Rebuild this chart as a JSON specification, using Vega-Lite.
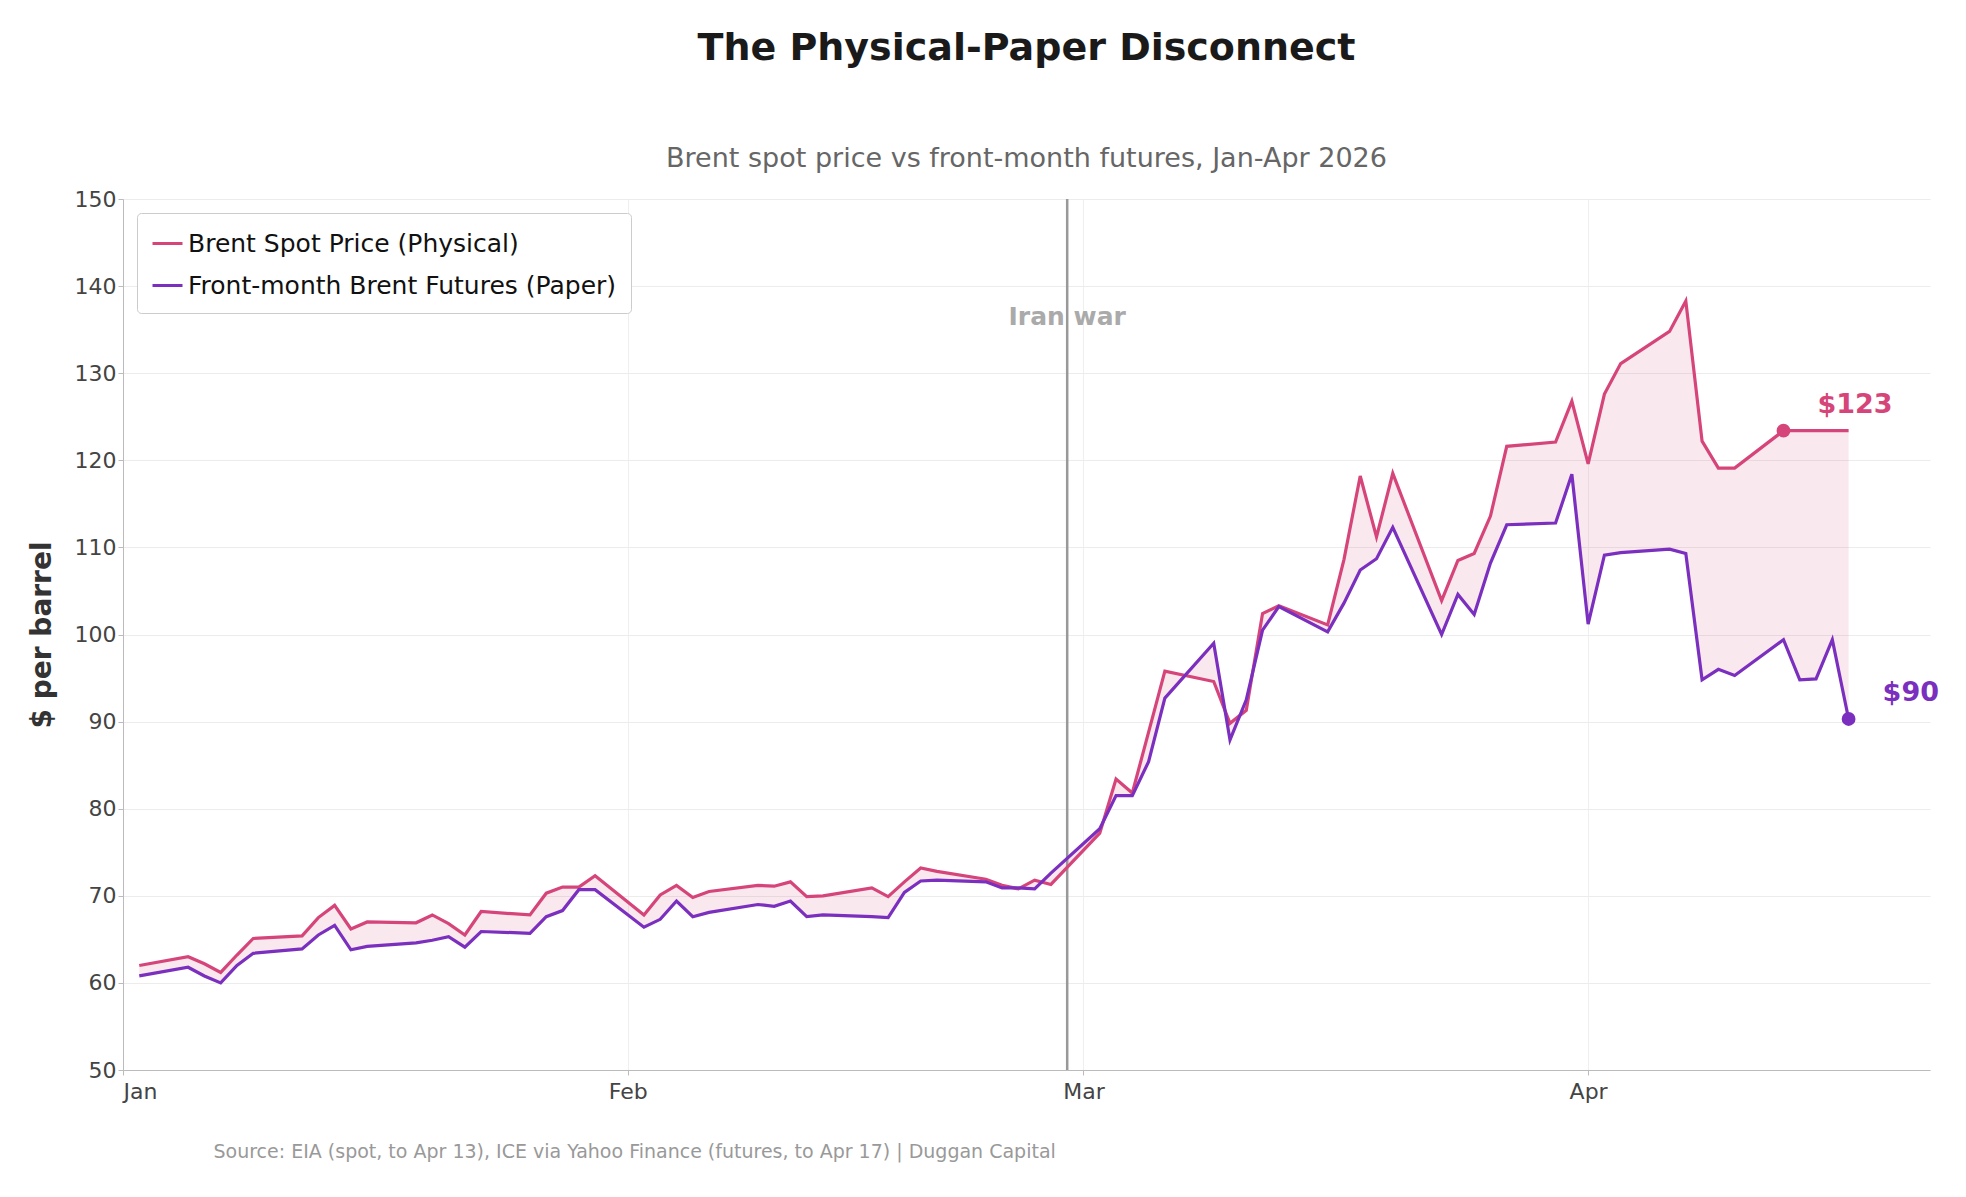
{
  "$schema": "https://vega.github.io/schema/vega-lite/v6.json",
  "width": 1966,
  "height": 1197,
  "autosize": {"type": "fit", "contains": "padding"},
  "padding": {"left": 28, "top": 30, "right": 34, "bottom": 36},
  "background": "white",
  "config": {
    "font": "DejaVu Sans",
    "view": {"stroke": null},
    "axis": {"labelFont": "DejaVu Sans", "titleFont": "DejaVu Sans"}
  },
  "title": {
    "text": "The Physical-Paper Disconnect",
    "subtitle": "Brent spot price vs front-month futures, Jan-Apr 2026",
    "fontSize": 38,
    "fontWeight": "bold",
    "color": "#1a1a1a",
    "subtitleFontSize": 27,
    "subtitleColor": "#666666",
    "subtitlePadding": 78,
    "offset": 16,
    "anchor": "middle"
  },
  "datasets": {
    "prices": [
      {"d": "2026-01-02", "spot": 62.0, "fut": 60.8},
      {"d": "2026-01-05", "spot": 63.0, "fut": 61.8},
      {"d": "2026-01-06", "spot": 62.2, "fut": 60.8},
      {"d": "2026-01-07", "spot": 61.2, "fut": 60.0},
      {"d": "2026-01-08", "spot": 63.2, "fut": 62.0},
      {"d": "2026-01-09", "spot": 65.1, "fut": 63.4},
      {"d": "2026-01-12", "spot": 65.4, "fut": 63.9},
      {"d": "2026-01-13", "spot": 67.5, "fut": 65.5},
      {"d": "2026-01-14", "spot": 68.9, "fut": 66.6},
      {"d": "2026-01-15", "spot": 66.2, "fut": 63.8},
      {"d": "2026-01-16", "spot": 67.0, "fut": 64.2},
      {"d": "2026-01-19", "spot": 66.9, "fut": 64.6},
      {"d": "2026-01-20", "spot": 67.8, "fut": 64.9},
      {"d": "2026-01-21", "spot": 66.8, "fut": 65.3},
      {"d": "2026-01-22", "spot": 65.5, "fut": 64.1},
      {"d": "2026-01-23", "spot": 68.2, "fut": 65.9},
      {"d": "2026-01-26", "spot": 67.8, "fut": 65.7},
      {"d": "2026-01-27", "spot": 70.3, "fut": 67.6},
      {"d": "2026-01-28", "spot": 71.0, "fut": 68.3},
      {"d": "2026-01-29", "spot": 71.0, "fut": 70.7},
      {"d": "2026-01-30", "spot": 72.3, "fut": 70.7},
      {"d": "2026-02-02", "spot": 67.8, "fut": 66.4},
      {"d": "2026-02-03", "spot": 70.1, "fut": 67.3},
      {"d": "2026-02-04", "spot": 71.2, "fut": 69.4},
      {"d": "2026-02-05", "spot": 69.8, "fut": 67.6},
      {"d": "2026-02-06", "spot": 70.5, "fut": 68.1},
      {"d": "2026-02-09", "spot": 71.2, "fut": 69.0},
      {"d": "2026-02-10", "spot": 71.1, "fut": 68.8},
      {"d": "2026-02-11", "spot": 71.6, "fut": 69.4},
      {"d": "2026-02-12", "spot": 69.9, "fut": 67.6},
      {"d": "2026-02-13", "spot": 70.0, "fut": 67.8},
      {"d": "2026-02-16", "spot": 70.9, "fut": 67.6},
      {"d": "2026-02-17", "spot": 69.9, "fut": 67.5},
      {"d": "2026-02-18", "spot": 71.6, "fut": 70.4},
      {"d": "2026-02-19", "spot": 73.2, "fut": 71.7},
      {"d": "2026-02-20", "spot": 72.8, "fut": 71.8},
      {"d": "2026-02-23", "spot": 71.9, "fut": 71.6},
      {"d": "2026-02-24", "spot": 71.2, "fut": 70.9},
      {"d": "2026-02-25", "spot": 70.8, "fut": 70.9},
      {"d": "2026-02-26", "spot": 71.8, "fut": 70.8},
      {"d": "2026-02-27", "spot": 71.3, "fut": 72.6},
      {"d": "2026-03-02", "spot": 77.2, "fut": 77.7},
      {"d": "2026-03-03", "spot": 83.4, "fut": 81.5},
      {"d": "2026-03-04", "spot": 81.8, "fut": 81.5},
      {"d": "2026-03-05", "spot": 88.8, "fut": 85.4},
      {"d": "2026-03-06", "spot": 95.8, "fut": 92.7},
      {"d": "2026-03-09", "spot": 94.6, "fut": 99.0},
      {"d": "2026-03-10", "spot": 89.8, "fut": 87.9},
      {"d": "2026-03-11", "spot": 91.3, "fut": 92.5},
      {"d": "2026-03-12", "spot": 102.4, "fut": 100.5},
      {"d": "2026-03-13", "spot": 103.3, "fut": 103.2},
      {"d": "2026-03-16", "spot": 101.1, "fut": 100.3},
      {"d": "2026-03-17", "spot": 108.6, "fut": 103.6},
      {"d": "2026-03-18", "spot": 118.2, "fut": 107.4},
      {"d": "2026-03-19", "spot": 111.2, "fut": 108.7},
      {"d": "2026-03-20", "spot": 118.5, "fut": 112.3},
      {"d": "2026-03-23", "spot": 103.9, "fut": 100.0},
      {"d": "2026-03-24", "spot": 108.5, "fut": 104.6},
      {"d": "2026-03-25", "spot": 109.3, "fut": 102.3},
      {"d": "2026-03-26", "spot": 113.6, "fut": 108.2},
      {"d": "2026-03-27", "spot": 121.6, "fut": 112.6},
      {"d": "2026-03-30", "spot": 122.1, "fut": 112.8},
      {"d": "2026-03-31", "spot": 126.8, "fut": 118.4},
      {"d": "2026-04-01", "spot": 119.6, "fut": 101.2},
      {"d": "2026-04-02", "spot": 127.6, "fut": 109.1},
      {"d": "2026-04-03", "spot": 131.1, "fut": 109.4},
      {"d": "2026-04-06", "spot": 134.8, "fut": 109.8},
      {"d": "2026-04-07", "spot": 138.3, "fut": 109.3},
      {"d": "2026-04-08", "spot": 122.2, "fut": 94.8},
      {"d": "2026-04-09", "spot": 119.1, "fut": 96.0},
      {"d": "2026-04-10", "spot": 119.1, "fut": 95.3},
      {"d": "2026-04-13", "spot": 123.4, "fut": 99.4},
      {"d": "2026-04-14", "spot": 123.4, "fut": 94.8},
      {"d": "2026-04-15", "spot": 123.4, "fut": 94.9},
      {"d": "2026-04-16", "spot": 123.4, "fut": 99.4},
      {"d": "2026-04-17", "spot": 123.4, "fut": 90.3}
    ],
    "ends": [
      {"d": "2026-04-13", "v": 123.4, "label": "$123", "series": "Brent Spot Price (Physical)"},
      {"d": "2026-04-17", "v": 90.3, "label": "$90", "series": "Front-month Brent Futures (Paper)"}
    ]
  },
  "encoding": {
    "x": {
      "field": "d",
      "type": "temporal",
      "scale": {"type": "utc", "domain": ["2026-01-01", "2026-04-22"]},
      "axis": {
        "title": "Source: EIA (spot, to Apr 13), ICE via Yahoo Finance (futures, to Apr 17) | Duggan Capital",
        "titleFontSize": 19,
        "titleFontWeight": "normal",
        "titleColor": "#999999",
        "titleAnchor": "start",
        "titleAlign": "left",
        "titleX": 90,
        "titlePadding": 40,
        "values": ["2026-01-01", "2026-02-01", "2026-03-01", "2026-04-01"],
        "labelExpr": "utcFormat(datum.value, '%b')",
        "labelFontSize": 22,
        "labelColor": "#444444",
        "gridColor": "#efefef",
        "domainColor": "#bbbbbb",
        "tickColor": "#bbbbbb",
        "labelPadding": 6
      }
    }
  },
  "layer": [
    {
      "data": {"name": "prices"},
      "mark": {"type": "area", "color": "#d6457a", "opacity": 0.12},
      "encoding": {
        "y": {
          "field": "spot",
          "type": "quantitative",
          "scale": {"domain": [50, 150], "nice": false},
          "axis": {
            "title": "$ per barrel",
            "titleFontSize": 28,
            "titleFontWeight": "bold",
            "titleColor": "#333333",
            "titlePadding": 18,
            "values": [50, 60, 70, 80, 90, 100, 110, 120, 130, 140, 150],
            "labelFontSize": 22,
            "labelColor": "#444444",
            "gridColor": "#ececec",
            "domainColor": "#bbbbbb",
            "tickColor": "#bbbbbb"
          }
        },
        "y2": {"field": "fut"}
      }
    },
    {
      "data": {"values": [{"d": "2026-02-28", "v": 136.5, "label": "Iran war"}]},
      "layer": [
        {"mark": {"type": "rule", "color": "#999999", "strokeWidth": 2.5}, "encoding": {}},
        {
          "mark": {"type": "text", "color": "#aaaaaa", "fontSize": 25, "fontWeight": "bold", "align": "center"},
          "encoding": {"y": {"field": "v", "type": "quantitative"}, "text": {"field": "label"}}
        }
      ]
    },
    {
      "data": {"name": "prices"},
      "transform": [
        {"calculate": "datum.spot", "as": "Brent Spot Price (Physical)"},
        {"calculate": "datum.fut", "as": "Front-month Brent Futures (Paper)"},
        {"fold": ["Brent Spot Price (Physical)", "Front-month Brent Futures (Paper)"], "as": ["series", "v"]}
      ],
      "mark": {"type": "line", "strokeWidth": 3.2},
      "encoding": {
        "y": {"field": "v", "type": "quantitative"},
        "color": {
          "field": "series",
          "type": "nominal",
          "scale": {
            "domain": ["Brent Spot Price (Physical)", "Front-month Brent Futures (Paper)"],
            "range": ["#d6457a", "#7b2fbe"]
          },
          "legend": {
            "title": null,
            "orient": "top-left",
            "offset": 14,
            "labelFontSize": 25,
            "labelColor": "#111111",
            "symbolType": "stroke",
            "symbolStrokeWidth": 3,
            "symbolSize": 900,
            "rowPadding": 12,
            "padding": 14,
            "strokeColor": "#cccccc",
            "fillColor": "white",
            "cornerRadius": 4,
            "labelLimit": 700
          }
        }
      }
    },
    {
      "data": {"name": "ends"},
      "layer": [
        {
          "mark": {"type": "circle", "size": 190, "opacity": 1},
          "encoding": {
            "y": {"field": "v", "type": "quantitative"},
            "color": {"field": "series", "type": "nominal", "legend": null}
          }
        },
        {
          "mark": {"type": "text", "fontSize": 27, "fontWeight": "bold", "align": "left", "dx": 34, "dy": -26},
          "encoding": {
            "y": {"field": "v", "type": "quantitative"},
            "text": {"field": "label"},
            "color": {"field": "series", "type": "nominal", "legend": null}
          }
        }
      ]
    }
  ]
}
